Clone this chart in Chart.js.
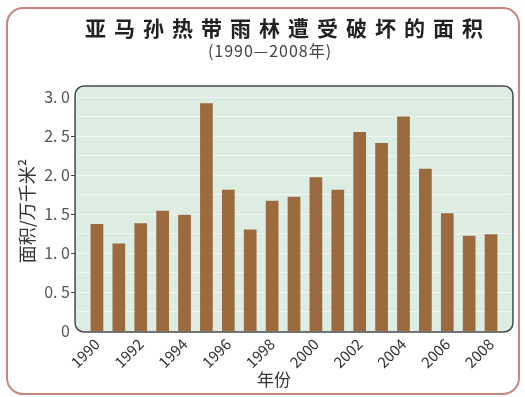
<!DOCTYPE html>
<html>
<head>
<meta charset="utf-8">
<script src="https://cdn.jsdelivr.net/npm/chart.js@4"></script>
<style>
  html, body { margin: 0; padding: 0; background: #fdfdfd; }
  #wrap { width: 525px; height: 397px; }
</style>
</head>
<body>
<div id="wrap"><canvas id="chart"></canvas></div>
<script>
const years = ['1990','1991','1992','1993','1994','1995','1996','1997','1998','1999',
               '2000','2001','2002','2003','2004','2005','2006','2007','2008'];
const area = [1.37, 1.12, 1.38, 1.54, 1.49, 2.92, 1.81, 1.30, 1.67, 1.72,
              1.97, 1.81, 2.55, 2.41, 2.75, 2.08, 1.51, 1.22, 1.24];
const yTicks = [0, 0.5, 1.0, 1.5, 2.0, 2.5, 3.0];
const titleText = '亚马孙热带雨林遭受破坏的面积';
const subtitleText = '(1990—2008年)';
const xTitle = '年份';
const yTitle = '面积/万千米²';

const font = "'Noto Sans CJK SC', 'DejaVu Sans', sans-serif";

function roundRect(ctx, x, y, w, h, r) {
    ctx.beginPath();
    ctx.moveTo(x + r, y);
    ctx.lineTo(x + w - r, y);
    ctx.arcTo(x + w, y, x + w, y + r, r);
    ctx.lineTo(x + w, y + h - r);
    ctx.arcTo(x + w, y + h, x + w - r, y + h, r);
    ctx.lineTo(x + r, y + h);
    ctx.arcTo(x, y + h, x, y + h - r, r);
    ctx.lineTo(x, y + r);
    ctx.arcTo(x, y, x + r, y, r);
    ctx.closePath();
}

// frame, plot panel, titles
const decor = {
    id: 'decor',
    beforeDraw(chart) {
        const ctx = chart.ctx;
        const a = chart.chartArea;
        const half = (a.right - a.left) / years.length / 2;
        ctx.save();
        ctx.fillStyle = '#fdfdfd';
        ctx.fillRect(0, 0, chart.width, chart.height);
        // outer frame
        roundRect(ctx, 7, 8, 512, 386, 16);
        ctx.fillStyle = '#ffffff';
        ctx.fill();
        ctx.lineWidth = 2;
        ctx.strokeStyle = '#c98580';
        ctx.stroke();
        // plot panel
        roundRect(ctx, a.left - half, a.top, a.right - a.left + 2 * half, a.bottom - a.top + 1, 9);
        ctx.fillStyle = '#deede3';
        ctx.fill();
        // faint grid
        const y = chart.scales.y;
        ctx.strokeStyle = 'rgba(255,255,255,0.55)';
        ctx.lineWidth = 1;
        for (let v = 0.25; v < 3.1; v += 0.25) {
            const py = Math.round(y.getPixelForValue(v)) + 0.5;
            ctx.beginPath();
            ctx.moveTo(a.left - half + 2, py);
            ctx.lineTo(a.right + half - 2, py);
            ctx.stroke();
        }
        ctx.restore();
    },
    afterDatasetsDraw(chart) {
        const ctx = chart.ctx;
        const a = chart.chartArea;
        const half = (a.right - a.left) / years.length / 2;
        const y = chart.scales.y;
        ctx.save();
        roundRect(ctx, a.left - half, a.top, a.right - a.left + 2 * half, a.bottom - a.top + 1, 9);
        ctx.strokeStyle = '#4a4a4a';
        ctx.lineWidth = 1.5;
        ctx.stroke();
        // y tick marks
        ctx.lineWidth = 1;
        yTicks.forEach(v => {
            if (v === 0 || v === 3.0) return;
            const py = Math.round(y.getPixelForValue(v)) + 0.5;
            ctx.beginPath();
            ctx.moveTo(a.left - half - 4, py);
            ctx.lineTo(a.left - half, py);
            ctx.stroke();
        });
        // titles
        ctx.fillStyle = '#222';
        ctx.textAlign = 'center';
        ctx.textBaseline = 'middle';
        ctx.font = 'bold 21px ' + font;
        ctx.letterSpacing = '8px';
        ctx.fillText(titleText, 288, 28);
        ctx.letterSpacing = '1px';
        ctx.font = '16px ' + font;
        ctx.fillStyle = '#444';
        ctx.fillText(subtitleText, 270, 51);
        ctx.letterSpacing = '0px';
        ctx.font = '17px ' + font;
        ctx.fillStyle = '#333';
        ctx.fillText(xTitle, 274, 380);
        ctx.font = '18px ' + font;
        ctx.translate(27, 211);
        ctx.rotate(-Math.PI / 2);
        ctx.fillText(yTitle, 0, 0);
        ctx.restore();
    }
};

new Chart(document.getElementById('chart'), {
    type: 'bar',
    data: {
        labels: years,
        datasets: [{
            label: yTitle,
            data: area,
            backgroundColor: '#9b6a3d',
            barPercentage: 0.58,
            categoryPercentage: 1.0
        }]
    },
    options: {
        responsive: true,
        maintainAspectRatio: false,
        animation: false,
        layout: { padding: { top: 86, right: 23, left: 0, bottom: 0 } },
        plugins: {
            legend: { display: false },
            tooltip: { enabled: false }
        },
        scales: {
            x: {
                grid: { display: false, drawTicks: false },
                border: { display: false },
                ticks: {
                    autoSkip: false,
                    maxRotation: 45,
                    minRotation: 45,
                    padding: 4,
                    color: '#333',
                    font: { family: font, size: 15 },
                    callback: function(val, i) {
                        return i % 2 === 0 ? years[i] : '';
                    }
                },
                afterFit: function(scale) { scale.height = 66; }
            },
            y: {
                min: 0,
                max: 3.14,
                grid: { display: false, drawTicks: false },
                border: { display: false },
                afterBuildTicks: function(scale) {
                    scale.ticks = yTicks.map(v => ({ value: v }));
                },
                ticks: {
                    padding: 16,
                    color: '#555',
                    font: { family: font, size: 16 },
                    callback: function(v) {
                        return v === 0 ? '0' : v.toFixed(1).replace('.', '. ');
                    }
                },
                afterFit: function(scale) { scale.width = 86; }
            }
        }
    },
    plugins: [decor]
});
</script>
</body>
</html>
